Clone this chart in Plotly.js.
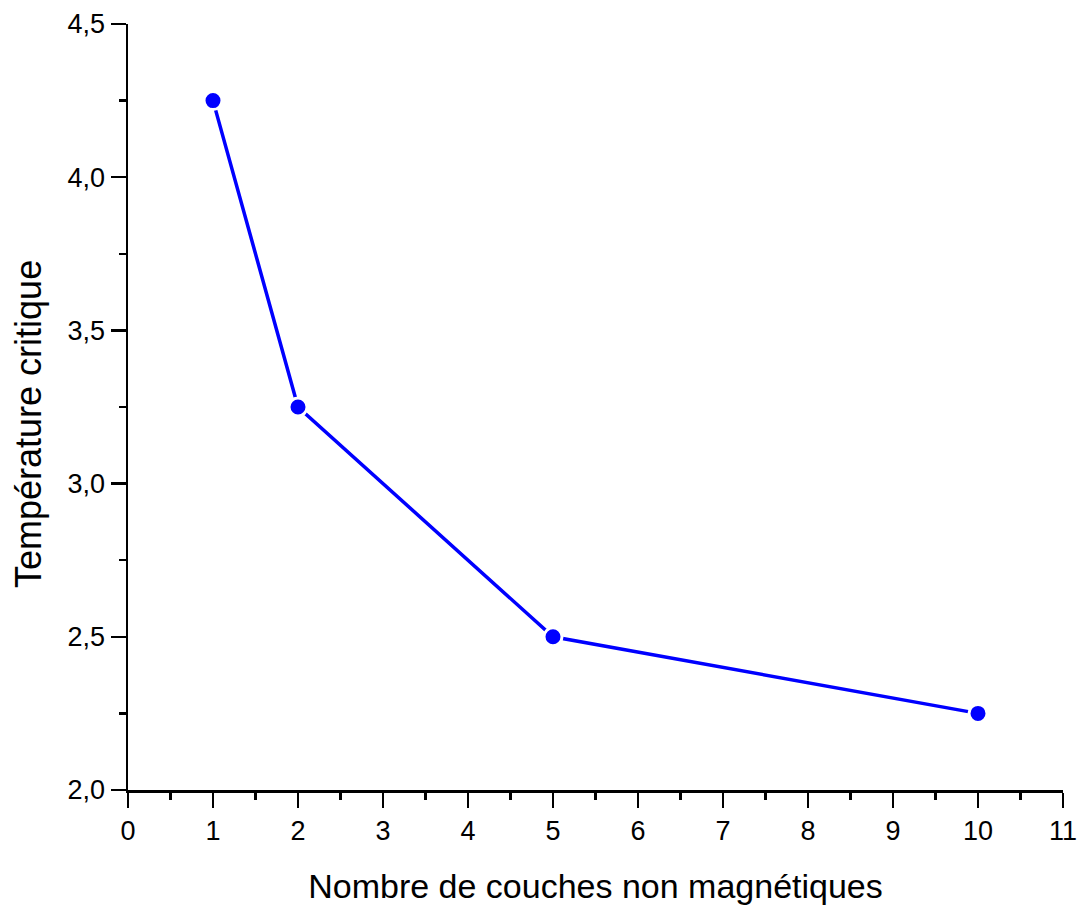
<!DOCTYPE html>
<html>
<head>
<meta charset="utf-8">
<script src="https://cdn.plot.ly/plotly-3.0.1.min.js"></script>
<style>html,body{margin:0;padding:0;background:#fff;}#chart{width:1082px;height:911px;}</style>
</head>
<body>
<div id="chart"></div>
<script>
const couches = [1, 2, 5, 10];
const temperature = [4.25, 3.25, 2.5, 2.25];
const xTitle = 'Nombre de couches non magnétiques';
const yTitle = 'Température critique';

const axisFont = {family: 'Liberation Sans, Arial, sans-serif', size: 27, color: '#000'};
const xTitleFont = {family: 'Liberation Sans, Arial, sans-serif', size: 34, color: '#000'};
const yTitleFont = {family: 'Liberation Sans, Arial, sans-serif', size: 36, color: '#000'};

const trace = {
  x: couches,
  y: temperature,
  type: 'scatter',
  mode: 'lines+markers',
  line: {color: '#0000ff', width: 3.5},
  marker: {color: '#0000ff', size: 18, symbol: 'circle', line: {color: '#ffffff', width: 3}},
  cliponaxis: false,
  hoverinfo: 'x+y'
};

const plotW = 1082 - 128 - 19;

const layout = {
  width: 1082,
  height: 911,
  margin: {l: 128, r: 19, t: 24, b: 121},
  paper_bgcolor: '#fff',
  plot_bgcolor: '#fff',
  separators: ', ',
  showlegend: false,
  xaxis: {
    range: [0, 11],
    tick0: 0, dtick: 1,
    showgrid: false, zeroline: false,
    showline: true, linecolor: '#000', linewidth: 2.5,
    ticks: 'outside', ticklen: 15, tickwidth: 2.5, tickcolor: '#000',
    minor: {dtick: 0.5, ticks: 'outside', ticklen: 7, tickwidth: 2.5, tickcolor: '#000'},
    tickfont: axisFont,
    title: {text: xTitle, font: xTitleFont, standoff: 30}
  },
  yaxis: {
    range: [2, 4.5],
    tick0: 2, dtick: 0.5,
    tickformat: '.1f',
    showgrid: false, zeroline: false,
    showline: true, linecolor: '#000', linewidth: 2.5,
    ticks: 'outside', ticklen: 15, tickwidth: 2.5, tickcolor: '#000',
    minor: {dtick: 0.25, ticks: 'outside', ticklen: 7, tickwidth: 2.5, tickcolor: '#000'},
    tickfont: axisFont
  },
  annotations: [{
    text: yTitle,
    font: yTitleFont,
    textangle: -90,
    xref: 'paper', yref: 'paper',
    x: (28 - 128) / plotW, y: 0.5,
    xanchor: 'center', yanchor: 'middle',
    yshift: -17,
    showarrow: false
  }]
};

Plotly.newPlot('chart', [trace], layout, {displayModeBar: false, staticPlot: true});
</script>
</body>
</html>
